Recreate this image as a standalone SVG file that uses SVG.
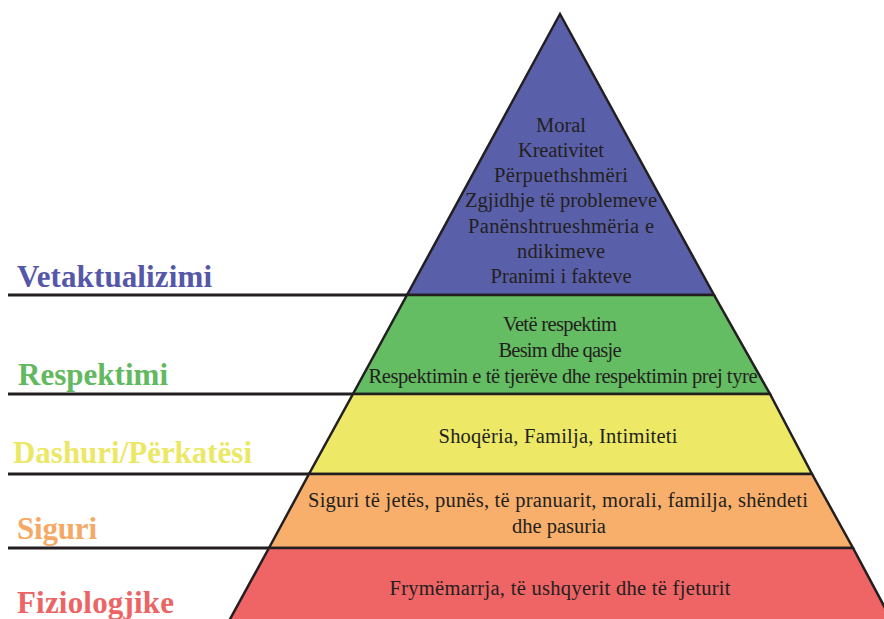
<svg xmlns="http://www.w3.org/2000/svg" width="884" height="619" viewBox="0 0 884 619">
  <style>
    .band { stroke: #231f20; stroke-width: 2.5; stroke-linejoin: miter; }
    .guide { stroke: #231f20; stroke-width: 3; fill: none; }
    .txt { font-family: "Liberation Serif", "DejaVu Serif", serif; font-size: 20.5px; fill: #231f20; text-anchor: middle; }
    .lbl { font-family: "Liberation Serif", "DejaVu Serif", serif; font-size: 31px; font-weight: bold; }
  </style>
  <rect width="884" height="619" fill="#ffffff"/>

  <!-- Self-actualisation (top triangle) -->
  <g id="vetaktualizimi">
    <polygon class="band" points="560,14 714,295 407,295" fill="#5a5fa9"/>
    <text class="txt" x="561" y="132" textLength="50">Moral</text>
    <text class="txt" x="561" y="157" textLength="86">Kreativitet</text>
    <text class="txt" x="561" y="182" textLength="134">Përpuethshmëri</text>
    <text class="txt" x="561" y="207" textLength="192">Zgjidhje të problemeve</text>
    <text class="txt" x="561" y="233" textLength="186">Panënshtrueshmëria e</text>
    <text class="txt" x="561" y="258" textLength="88">ndikimeve</text>
    <text class="txt" x="561" y="283" textLength="141">Pranimi i fakteve</text>
    <text class="lbl" x="17" y="287" fill="#5558a8" textLength="195">Vetaktualizimi</text>
  </g>

  <!-- Esteem -->
  <g id="respektimi">
    <polygon class="band" points="407,295 714,295 770,394 353,394" fill="#64bd62"/>
    <text class="txt" x="560" y="331" textLength="114">Vetë respektim</text>
    <text class="txt" x="560" y="357" textLength="123">Besim dhe qasje</text>
    <text class="txt" x="563" y="383" textLength="389">Respektimin e të tjerëve dhe respektimin prej tyre</text>
    <text class="lbl" x="18" y="385" fill="#62b95f" textLength="150">Respektimi</text>
  </g>

  <!-- Love / belonging -->
  <g id="dashuri">
    <polygon class="band" points="353,394 770,394 812,474 309,474" fill="#ede966"/>
    <text class="txt" x="558" y="443" textLength="239">Shoqëria, Familja, Intimiteti</text>
    <text class="lbl" x="13" y="463" fill="#ece867" textLength="239">Dashuri/Përkatësi</text>
  </g>

  <!-- Safety -->
  <g id="siguri">
    <polygon class="band" points="309,474 812,474 853,548 269,548" fill="#f8af6b"/>
    <text class="txt" x="558" y="507" textLength="500">Siguri të jetës, punës, të pranuarit, morali, familja, shëndeti</text>
    <text class="txt" x="559" y="533">dhe pasuria</text>
    <text class="lbl" x="17" y="539" fill="#f6a865" textLength="80">Siguri</text>
  </g>

  <!-- Physiological -->
  <g id="fiziologjike">
    <polygon class="band" points="269,548 853,548 892,621 229,621" fill="#ef6464"/>
    <text class="txt" x="560" y="595" textLength="341">Frymëmarrja, të ushqyerit dhe të fjeturit</text>
    <text class="lbl" x="17" y="613" fill="#ec6464" textLength="157">Fiziologjike</text>
  </g>

  <!-- Level guide lines -->
  <g id="connectors">
    <line class="guide" x1="8" y1="295" x2="407" y2="295"/>
    <line class="guide" x1="8" y1="394" x2="353" y2="394"/>
    <line class="guide" x1="8" y1="474" x2="309" y2="474"/>
    <line class="guide" x1="8" y1="548" x2="269" y2="548"/>
  </g>
</svg>
